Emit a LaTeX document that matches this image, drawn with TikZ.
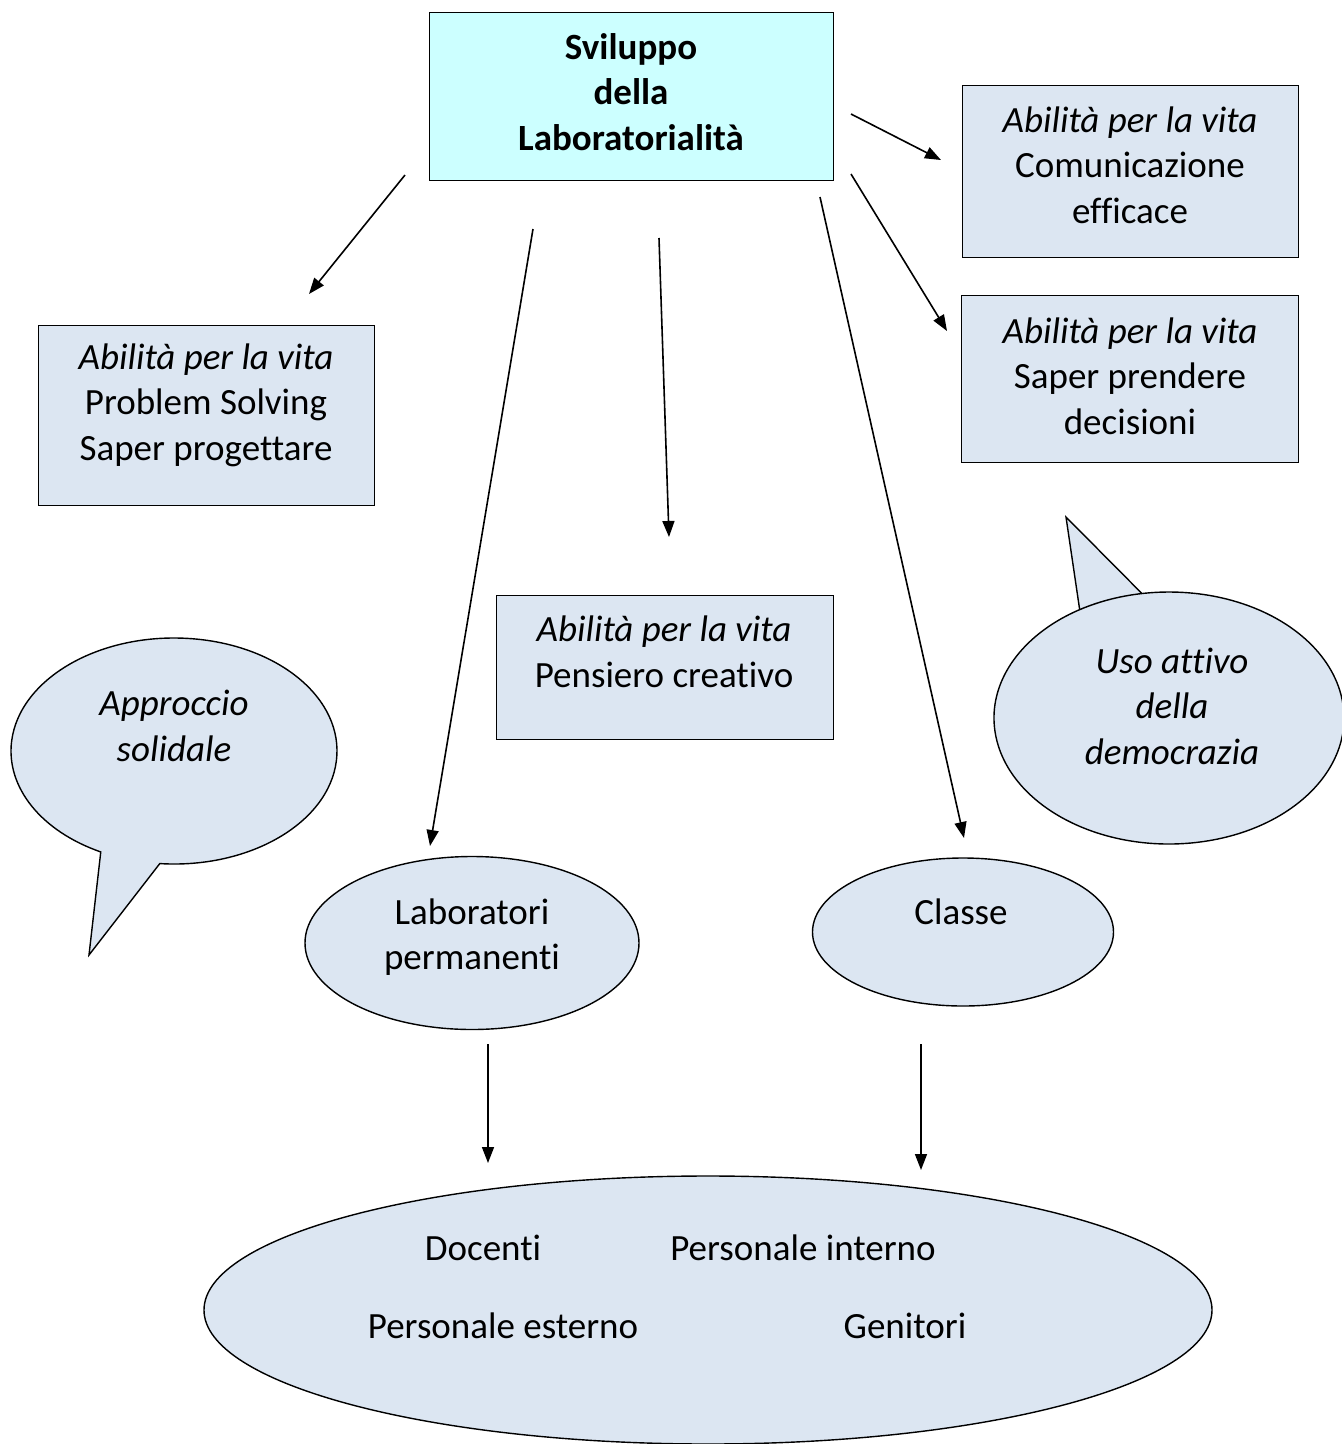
\documentclass[tikz,border=0pt]{standalone}
\usepackage{fontspec}
\setmainfont{Carlito}[Ligatures={NoCommon}]
\usetikzlibrary{arrows.meta,shapes.geometric}
\definecolor{lightfill}{HTML}{DCE6F2}
\definecolor{titlefill}{HTML}{CCFFFF}
\begin{document}
\begin{tikzpicture}[x=1pt,y=1pt,
  txt/.style={font=\fontsize{37}{45.5}\selectfont, align=center, inner sep=0pt},
  infobox/.style={draw, line width=1.4pt, fill=lightfill, inner sep=0pt, anchor=north west},
  topbox/.style={draw, line width=1.4pt, fill=titlefill, inner sep=0pt, anchor=north west},
  oval/.style={ellipse, draw, line width=1.4pt, fill=lightfill, inner sep=0pt},
  bubble/.style={draw, line width=1.4pt, fill=lightfill, line join=miter},
  link/.style={line width=1.6pt, -{Triangle[length=16pt,width=12pt]}}]
\useasboundingbox (0,0) rectangle (1342,-1444);

% title box
\node[topbox, minimum width=404, minimum height=168] (title) at (429,-12) {};
\node[txt, font=\fontsize{37}{45.5}\selectfont\bfseries] (titleText) at (631,-92) {Sviluppo\\della\\Laboratorialità};

% life-skill boxes
\node[infobox, minimum width=336, minimum height=172] (com) at (962,-85) {};
\node[txt] (comText) at (1130,-165) {\itshape Abilità per la vita\\Comunicazione\\efficace};

\node[infobox, minimum width=337, minimum height=167] (dec) at (961,-295) {};
\node[txt] (decText) at (1130,-376) {\itshape Abilità per la vita\\Saper prendere\\decisioni};

\node[infobox, minimum width=336, minimum height=180] (prob) at (38,-325) {};
\node[txt] (probText) at (206,-405) {\itshape Abilità per la vita\\Problem Solving\\Saper progettare};

\node[infobox, minimum width=337, minimum height=144] (crea) at (496,-595) {};
\node[txt] (creaText) at (664,-652) {\itshape Abilità per la vita\\Pensiero creativo};

% speech bubbles
\draw[bubble] (174,-751) ++(265:163 and 113)
  arc[start angle=265, end angle=603.3, x radius=163, y radius=113]
  -- (89,-955) -- cycle;
\node[txt, font=\fontsize{37}{45.5}\selectfont\itshape] (solText) at (174,-726) {Approccio\\solidale};

\draw[bubble] (1169,-718) ++(98.9:175 and 126)
  arc[start angle=98.9, end angle=480.7, x radius=175, y radius=126]
  -- (1066,-517) -- cycle;
\node[txt, font=\fontsize{37}{45.5}\selectfont\itshape] (demText) at (1172,-706) {Uso attivo\\della\\democrazia};

% places
\node[oval, minimum width=334, minimum height=173] (lab) at (472,-943) {};
\node[txt] (labText) at (472,-937) {Laboratori\\permanenti};

\node[oval, minimum width=301, minimum height=148] (cls) at (963,-932) {};
\node[txt] (clsText) at (961,-912) {Classe};

% people involved
\node[oval, minimum width=1008, minimum height=268] (people) at (708,-1310) {};
\node[txt] (doc) at (483,-1248) {Docenti};
\node[txt] (pint) at (803,-1248) {Personale interno};
\node[txt] (pest) at (503,-1326) {Personale esterno};
\node[txt] (gen) at (905,-1326) {Genitori};

% connector end points
\coordinate (a1s) at (405,-175);  \coordinate (a1e) at (309,-294);
\coordinate (a2s) at (533,-229);  \coordinate (a2e) at (430,-846);
\coordinate (a3s) at (659,-238);  \coordinate (a3e) at (669,-537);
\coordinate (a4s) at (820,-197);  \coordinate (a4e) at (964,-838);
\coordinate (a5s) at (851,-114);  \coordinate (a5e) at (941,-160);
\coordinate (a6s) at (851,-174);  \coordinate (a6e) at (947,-331);
\coordinate (a7s) at (488,-1044); \coordinate (a7e) at (488,-1163);
\coordinate (a8s) at (921,-1044); \coordinate (a8e) at (921,-1170);

\draw[link] (a1s) -- (a1e);
\draw[link] (a2s) -- (a2e);
\draw[link] (a3s) -- (a3e);
\draw[link] (a4s) -- (a4e);
\draw[link] (a5s) -- (a5e);
\draw[link] (a6s) -- (a6e);
\draw[link] (a7s) -- (a7e);
\draw[link] (a8s) -- (a8e);
\end{tikzpicture}
\end{document}
